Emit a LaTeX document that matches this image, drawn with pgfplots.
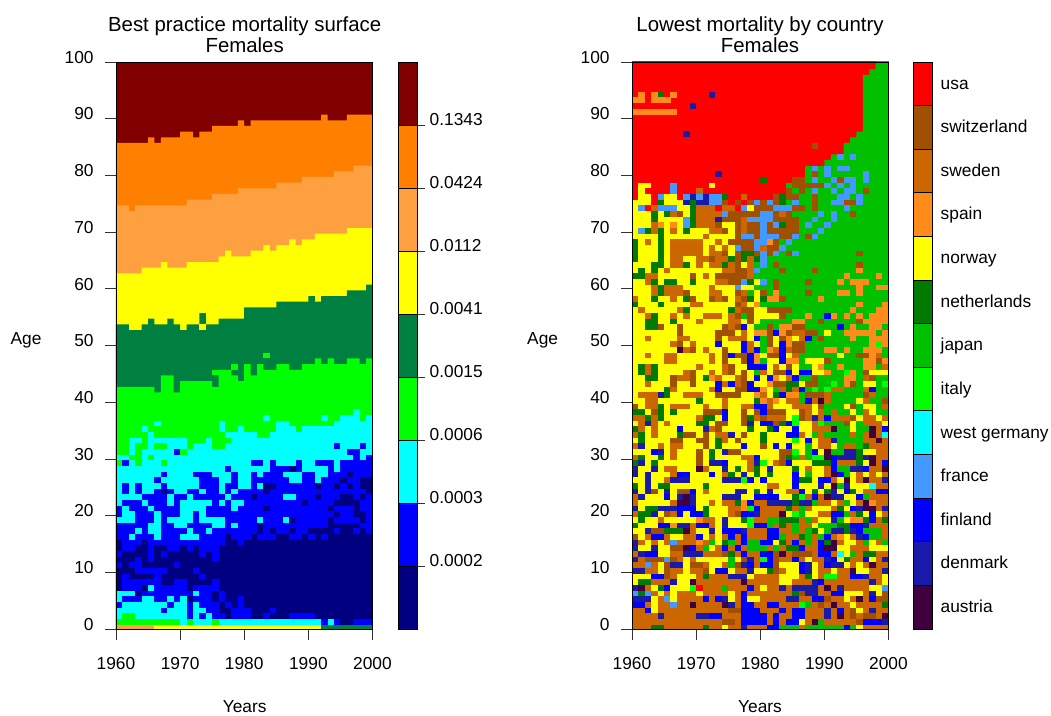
\documentclass[border=0pt]{standalone}
\usepackage{fontspec}
\setmainfont{Liberation Sans}
\usepackage{pgfplots}
\usepackage{pgfplotstable}
\pgfplotsset{compat=1.18}
\definecolor{l0}{HTML}{000080}\definecolor{l1}{HTML}{0000FF}\definecolor{l2}{HTML}{00FFFF}
\definecolor{l3}{HTML}{00FF00}\definecolor{l4}{HTML}{008040}\definecolor{l5}{HTML}{FFFF00}
\definecolor{l6}{HTML}{FFA040}\definecolor{l7}{HTML}{FF8000}\definecolor{l8}{HTML}{800000}
\definecolor{r0}{HTML}{400040}\definecolor{r1}{HTML}{1A1AAA}\definecolor{r2}{HTML}{0000FF}
\definecolor{r3}{HTML}{4499FF}\definecolor{r4}{HTML}{00FFFF}\definecolor{r5}{HTML}{00FF00}
\definecolor{r6}{HTML}{00C000}\definecolor{r7}{HTML}{007A00}\definecolor{r8}{HTML}{FFFF00}
\definecolor{r9}{HTML}{FF8C1A}\definecolor{r10}{HTML}{CC6600}\definecolor{r11}{HTML}{A05000}
\definecolor{r12}{HTML}{FF0000}
\pgfdeclareplotmark{cell}{\pgfpathrectangle{\pgfpoint{0pt}{-1.19pt}}{\pgfpoint{4.9pt}{4.35pt}}\pgfusepathqfill}
\pgfplotsset{
 lcells/.style={scatter,only marks,forget plot,clip marker paths=true,point meta=explicit symbolic,scatter/classes={
  0={mark=cell,fill=l0},1={mark=cell,fill=l1},2={mark=cell,fill=l2},3={mark=cell,fill=l3},
  4={mark=cell,fill=l4},5={mark=cell,fill=l5},6={mark=cell,fill=l6}}},
 rcells/.style={scatter,only marks,forget plot,clip marker paths=true,point meta=explicit symbolic,scatter/classes={
  0={mark=cell,fill=r0},1={mark=cell,fill=r1},2={mark=cell,fill=r2},3={mark=cell,fill=r3},
  4={mark=cell,fill=r4},5={mark=cell,fill=r5},6={mark=cell,fill=r6},7={mark=cell,fill=r7},
  8={mark=cell,fill=r8},9={mark=cell,fill=r9},10={mark=cell,fill=r10},11={mark=cell,fill=r11},
  12={mark=cell,fill=r12}}},
 main/.style={scale only axis,width=192.375pt,height=425.25pt,xmin=1960,xmax=2000,ymin=0,ymax=100,
  xtick={1960,1970,1980,1990,2000},ytick={0,10,...,100},tick align=outside,xtick pos=bottom,ytick pos=left,
  major tick length=8pt,tick style={black!80,line width=0.5pt},axis line style={line width=0.5pt},
  /pgf/number format/assume math mode=true,/pgf/number format/1000 sep={},
  tick label style={font=\fontsize{13}{15}\selectfont},xticklabel style={yshift=-10pt},yticklabel style={xshift=-5.25pt,yshift=3.5pt},
  axis on top},
 bar/.style={scale only axis,width=14.25pt,height=425.25pt,xmin=0,xmax=1,xtick=\empty,tick align=outside,
  ytick pos=right,axis line style={line width=0.5pt},tick style={black!80,line width=0.5pt},
  tick label style={font=\fontsize{13}{15}\selectfont},axis on top},
}
% left panel: upper limit of each band per year
\pgfplotstableread{
x t8 t7 t6 t5 t4
1960 86 75 63 54 43
1961 86 75 63 54 43
1962 86 74 63 53 43
1963 86 75 63 53 43
1964 86 75 64 54 43
1965 87 75 64 55 43
1966 86 75 64 54 42
1967 87 75 65 54 45
1968 87 75 64 55 45
1969 87 75 64 54 42
1970 88 75 64 53 44
1971 88 76 65 54 44
1972 87 76 65 54 44
1973 88 76 65 56 44
1974 88 76 65 54 44
1975 89 77 65 54 43
1976 89 77 66 55 46
1977 89 77 67 55 46
1978 89 77 66 55 45
1979 90 78 66 55 44
1980 89 78 66 57 47
1981 90 78 67 57 45
1982 90 78 67 57 47
1983 90 78 68 57 46
1984 90 78 67 57 46
1985 90 79 68 58 47
1986 90 79 68 58 47
1987 90 79 69 58 46
1988 90 79 68 58 46
1989 90 80 69 58 47
1990 90 80 69 59 47
1991 90 80 70 58 48
1992 91 80 70 59 47
1993 90 80 70 59 48
1994 90 81 70 59 47
1995 90 81 70 59 47
1996 91 81 71 60 48
1997 91 82 71 60 48
1998 91 82 71 60 47
1999 91 82 71 61 48
2000 91 82 71 61 48
}\bands
% left panel cells, age 38 (first line) down to age 0
\pgfplotstableread[header=false]{
3 3 3 3 3 3 3 3 3 3  3 3 3 3 3 3 3 3 3 3  3 3 3 3 3 3 3 3 3 3  3 3 3 3 3 3 3 2 3 3
3 3 3 3 3 3 3 3 3 3  3 3 3 3 3 3 3 3 3 3  3 3 3 2 3 3 3 3 3 3  3 3 2 3 3 2 2 2 3 2
3 3 3 3 3 3 2 3 3 3  3 3 3 3 3 3 2 3 3 3  3 3 3 3 3 2 2 3 3 3  3 3 3 3 2 2 2 2 2 2
3 3 3 3 2 3 3 3 3 3  3 3 3 3 3 3 2 3 3 2  3 3 3 3 3 2 2 2 3 2  2 2 2 2 2 2 2 2 2 2
3 3 3 3 3 2 3 3 3 3  3 3 3 3 3 3 3 2 2 2  2 2 3 3 2 2 2 2 2 2  2 2 2 2 2 2 2 2 2 2
3 3 2 2 3 2 2 2 2 2  2 3 3 3 2 3 3 3 2 2  2 2 2 2 2 2 2 2 2 2  2 2 2 2 2 2 2 2 2 2
3 3 2 3 3 2 3 3 2 2  2 3 2 2 2 3 3 2 2 2  2 2 2 2 2 2 2 2 2 2  2 2 2 2 1 2 2 2 1 2
3 3 2 3 2 2 2 2 2 1  3 2 2 2 2 2 2 2 2 2  2 2 2 2 2 2 2 2 2 2  2 2 2 2 2 2 1 1 2 2
2 2 3 3 2 3 2 2 2 2  2 2 2 2 2 2 2 2 2 2  2 2 2 2 2 2 2 2 2 2  2 2 2 2 2 2 2 1 2 1
3 1 2 3 2 2 2 3 2 2  2 2 2 2 2 2 2 2 2 2  2 1 1 2 1 2 2 2 1 2  2 1 1 1 2 1 1 1 1 1
2 2 2 2 2 2 2 2 2 2  2 2 2 2 2 2 2 1 2 2  2 2 2 2 1 1 1 0 1 2  2 2 2 1 2 1 1 1 1 1
2 2 2 2 2 2 2 1 2 2  2 2 1 1 1 2 2 2 1 2  2 1 2 1 1 1 2 2 2 1  1 2 2 1 1 1 0 1 1 1
2 2 2 2 2 2 1 2 2 2  2 2 2 1 1 1 2 2 1 2  2 1 1 1 1 1 1 2 2 1  1 2 1 1 1 0 1 1 0 0
2 1 2 1 2 2 2 1 2 2  2 2 2 1 1 1 2 1 1 2  2 1 2 0 0 1 1 1 1 1  1 0 1 1 0 1 0 1 0 0
2 1 2 1 2 2 1 0 1 2  2 1 1 2 1 1 2 1 2 1  1 1 1 0 1 1 1 1 1 1  1 1 1 1 1 1 1 1 1 0
2 2 2 2 1 1 1 1 2 1  1 2 1 1 1 1 1 2 1 1  1 0 1 1 1 1 2 2 1 1  1 0 1 1 1 0 0 1 0 1
2 1 1 1 2 1 1 1 2 1  2 2 2 2 2 1 2 1 2 2  1 1 1 1 1 1 1 1 1 0  1 1 1 1 0 0 0 0 1 1
1 2 1 1 1 2 1 1 1 1  2 2 2 2 1 1 1 1 2 1  1 1 1 0 1 1 1 1 1 1  1 1 1 0 1 1 1 0 1 1
1 2 2 1 1 1 2 1 1 1  2 2 1 2 1 1 1 1 1 1  1 1 1 1 1 1 1 1 1 1  1 1 1 1 0 1 1 0 0 1
2 2 2 1 1 1 2 1 2 2  2 2 1 2 2 2 2 1 1 1  1 1 2 1 1 1 2 0 1 1  1 1 1 0 1 1 1 1 0 1
1 1 1 1 1 2 2 1 1 2  2 1 1 1 1 2 2 1 2 1  1 1 0 1 1 1 1 1 1 1  1 1 1 0 0 0 0 0 1 1
1 1 1 2 1 2 2 1 1 1  1 2 1 1 2 1 1 1 1 1  1 1 0 1 0 1 1 0 1 1  0 0 0 0 1 0 0 1 0 1
1 1 2 1 1 1 2 1 1 1  2 2 2 1 1 1 1 0 1 1  1 0 1 1 1 0 0 1 1 0  1 0 1 0 0 0 0 0 0 0
0 1 1 1 0 1 1 1 1 1  1 1 1 1 1 1 1 0 0 1  0 0 0 0 0 0 0 0 0 0  0 0 0 0 0 0 0 0 0 0
0 1 1 0 0 1 0 0 1 1  0 1 0 1 1 1 0 0 0 0  0 0 0 0 0 0 0 0 0 0  0 0 0 0 0 0 0 0 0 0
1 0 0 0 0 1 0 1 0 0  0 0 0 1 0 1 0 0 0 0  0 0 0 0 0 0 0 0 0 0  0 0 0 0 0 0 0 0 0 0
0 0 0 1 0 1 0 0 0 0  0 0 0 0 0 1 0 0 0 0  0 0 0 0 0 0 0 0 0 0  0 0 0 0 0 0 0 0 0 0
1 0 1 1 0 0 0 0 0 1  0 0 0 0 0 0 0 0 0 0  0 0 0 0 0 0 0 0 0 0  0 0 0 0 0 0 0 0 0 0
0 0 0 1 1 1 1 1 0 0  0 0 1 0 0 0 0 0 0 0  0 0 0 0 0 0 0 0 0 0  0 0 0 0 0 0 0 0 0 0
0 1 0 0 0 0 1 0 0 0  0 0 0 1 0 0 0 0 0 0  0 0 0 0 0 0 0 0 0 0  0 0 0 0 0 0 0 0 0 0
0 1 1 1 1 1 1 0 0 1  1 0 0 0 0 1 0 0 0 0  0 0 0 0 0 0 0 0 0 0  0 0 0 0 0 0 0 0 0 0
0 1 1 1 0 2 1 1 1 1  1 0 1 1 1 1 0 0 0 0  0 0 0 0 0 0 0 0 0 0  0 0 0 0 0 0 0 0 0 0
2 2 2 0 1 1 1 1 1 1  1 1 2 1 1 0 1 0 0 0  0 0 0 0 0 0 0 0 0 0  0 0 0 0 0 0 0 0 0 0
2 1 1 1 2 2 1 1 2 1  2 0 1 1 1 0 1 0 0 1  0 0 0 0 0 0 0 0 0 0  0 0 0 0 0 0 0 0 0 0
1 2 2 2 2 2 2 2 1 2  2 1 2 1 1 1 0 1 0 1  0 0 0 0 0 0 0 0 0 0  0 0 0 0 0 0 0 0 0 0
2 2 2 2 2 2 2 1 2 2  2 1 2 2 1 1 0 0 1 1  1 0 0 0 1 0 0 0 0 0  0 0 0 0 0 0 0 0 0 0
2 3 3 2 2 2 2 2 2 2  2 1 2 1 2 1 1 0 1 1  1 0 0 1 0 0 0 1 1 1  1 0 0 0 0 0 0 0 0 0
3 3 3 3 3 3 3 3 3 3  2 3 2 2 2 3 2 2 2 2  2 2 2 2 2 2 2 2 2 2  2 2 1 2 1 0 0 1 1 1
6 6 6 6 6 6 5 5 5 5  5 5 5 5 5 5 5 5 5 5  5 5 5 5 5 5 5 5 5 5  5 5 4 4 4 4 4 4 4 4
}\lcellsT
\pgfplotstableread{
x y c
1973 53 5
1975 45 3
1978 46 3
1983 48 3
}\lsparse
% right panel cells, age 79 (first line) down to age 0
\pgfplotstableread[header=false]{
12 12 12 12 12 12 12 12 12 12  12 12 12 12 12 12 12 12 12 12  7 12 12 12 12 11 11 6 3 6  6 3 11 3 3 6 3 6 6 6
12 8 8 12 12 12 3 12 12 12  12 12 8 12 12 12 12 12 12 12  12 12 12 12 6 11 11 11 11 11  3 6 3 6 3 6 6 6 6 6
12 8 12 12 12 12 3 12 12 12  10 12 12 12 12 12 12 12 12 12  12 12 12 12 11 6 11 6 3 6  6 3 6 3 3 6 11 6 6 6
12 8 8 12 3 8 8 12 3 1  3 1 3 3 7 12 12 10 12 12  12 12 11 7 11 11 6 6 11 6  6 6 3 3 6 3 6 6 6 6
8 8 8 12 7 8 8 8 1 7  1 1 3 3 11 12 11 12 11 3  11 3 11 7 6 3 6 6 11 6  6 3 3 11 11 3 6 6 6 6
8 3 12 10 3 3 3 8 8 7  10 10 10 12 10 10 12 3 8 11  11 11 3 3 3 11 11 6 11 6  6 6 6 3 6 6 6 6 6 6
8 8 8 7 8 7 10 11 8 7  10 10 10 10 3 11 11 11 11 11  3 3 11 10 11 6 6 6 6 3  6 3 6 6 11 6 6 6 6 6
8 8 8 7 8 8 8 8 3 7  10 10 10 1 11 11 11 10 3 3  3 3 11 11 11 11 6 6 3 6  6 3 6 6 6 6 6 6 6 6
8 8 8 10 9 8 9 8 3 7  10 10 10 11 8 8 11 10 11 11  3 11 3 7 11 11 6 3 6 6  3 6 6 6 6 6 6 6 6 6
8 3 7 10 7 8 10 8 7 8  8 8 10 10 11 8 11 10 11 11  3 11 11 11 11 11 6 6 6 3  6 6 6 6 6 6 6 6 6 6
8 8 8 8 7 8 8 8 8 8  8 10 8 8 8 8 11 3 3 11  3 3 3 11 11 3 6 11 3 6  6 6 6 6 6 6 6 6 6 6
7 8 10 8 7 8 10 10 10 10  10 8 8 10 8 11 11 11 11 3  3 9 11 6 3 6 6 6 6 6  6 6 6 6 6 6 6 6 6 6
7 8 8 8 7 8 10 10 10 10  10 8 10 8 10 8 3 11 11 3  10 11 11 3 6 6 6 6 6 6  6 6 6 6 6 6 6 6 6 6
7 8 8 8 7 8 10 10 10 10  10 8 10 10 11 8 11 7 7 11  3 11 3 6 11 3 6 6 6 6  6 6 6 6 6 11 6 6 6 6
7 8 8 8 7 8 10 10 8 8  10 10 11 10 10 7 11 7 10 7  3 6 6 6 6 6 6 6 6 6  6 6 6 6 6 6 6 6 6 6
8 8 8 7 7 8 10 10 7 8  10 8 10 10 7 10 11 8 10 6  3 6 11 6 6 6 6 6 6 6  6 6 6 6 6 11 6 6 6 6
8 7 8 7 8 10 8 8 8 8  8 8 8 8 10 10 11 11 10 3  6 6 6 11 6 6 6 6 11 6  6 6 6 6 6 9 6 6 6 6
7 7 10 10 8 8 8 8 8 11  8 10 8 11 11 11 11 11 10 6  6 6 6 6 6 6 6 6 6 6  6 6 6 9 6 6 6 6 9 6
8 8 10 7 8 7 7 8 8 7  8 8 8 10 10 11 11 3 7 8  3 6 11 6 6 6 6 11 6 6  6 6 9 6 9 9 9 6 6 6
8 8 8 10 7 10 10 10 8 8  8 8 10 8 8 8 3 8 8 6  6 6 11 6 6 6 6 6 6 6  6 6 6 6 6 9 6 6 9 9
8 8 8 10 7 10 10 10 11 8  8 8 10 10 8 8 11 10 6 8  11 6 9 6 6 6 6 11 6 6  6 6 9 9 6 9 6 6 6 6
10 8 8 7 8 8 10 8 7 11  8 8 11 10 11 8 10 11 7 8  7 9 9 11 6 6 6 6 6 9  6 6 6 6 6 6 6 6 6 6
7 8 8 8 7 8 8 8 8 10  10 8 8 8 8 8 11 10 8 9  6 6 6 6 6 6 6 6 6 6  6 6 6 6 6 9 6 6 6 9
8 10 8 8 8 8 8 10 7 8  8 8 8 8 8 7 10 11 11 8  8 11 11 11 11 6 6 6 6 6  6 6 6 6 9 6 6 6 9 9
8 8 10 7 8 8 10 8 10 8  8 10 10 10 8 10 11 6 11 8  8 8 8 11 6 6 6 9 6 6  2 9 6 9 6 9 6 9 9 9
8 8 7 7 8 8 7 8 8 8  10 8 8 8 8 10 10 8 11 8  6 6 6 6 6 9 9 6 6 11  6 6 6 6 6 11 9 9 9 9
8 8 7 7 11 8 8 11 8 8  8 8 8 8 11 10 11 2 8 6  6 11 6 9 9 11 11 6 6 6  6 6 2 6 9 6 6 9 9 6
8 8 8 8 8 8 8 11 8 8  8 8 8 11 11 11 8 10 8 9  9 11 2 9 11 10 10 11 11 6  8 6 6 9 9 9 9 9 6 9
8 8 10 8 8 8 8 10 10 8  8 8 8 11 8 10 10 10 8 2  6 11 8 11 9 8 10 2 6 11  6 6 6 6 9 6 6 9 9 9
8 8 8 8 8 8 10 11 8 10  8 8 8 2 8 8 8 2 10 8  6 11 8 2 9 11 11 6 6 6  6 6 6 6 6 6 6 9 5 9
8 8 8 8 8 8 8 0 10 11  8 10 8 8 11 8 8 2 10 2  6 9 10 2 10 11 11 6 6 6  9 9 6 9 6 6 9 9 9 6
8 8 10 8 8 10 10 8 8 8  8 8 10 8 11 2 11 11 2 9  8 11 11 2 8 10 6 6 6 6  6 6 8 6 6 11 11 9 10 6
8 8 8 8 8 10 10 8 8 8  8 8 10 8 11 8 8 11 2 9  6 8 8 2 9 9 6 8 8 8  11 6 6 6 6 6 9 9 11 9
8 7 10 7 8 8 8 8 8 8  10 8 8 8 10 11 8 8 2 2  2 8 10 8 11 8 6 6 8 9  6 6 9 6 6 6 9 9 6 10
8 7 10 7 8 8 8 8 10 11  8 8 10 8 10 11 8 11 8 6  10 8 11 11 2 8 2 2 8 8  9 6 6 5 9 6 11 8 8 8
8 8 7 7 8 8 11 10 10 11  8 7 9 10 8 8 10 11 8 2  8 2 9 8 10 2 6 6 11 6  6 6 6 9 9 6 10 11 6 6
8 8 10 8 8 8 11 8 8 11  8 8 8 2 10 2 10 11 2 8  8 9 11 11 7 7 8 11 11 6  6 5 6 9 11 6 8 8 6 5
8 8 8 8 8 7 10 8 8 8  8 8 10 2 8 8 11 11 2 2  9 8 6 10 7 10 2 6 5 6  5 10 10 6 6 6 10 2 6 6
8 10 10 10 1 7 8 8 10 10  10 8 8 11 11 11 11 8 8 9  10 8 7 2 9 9 6 11 11 11  10 6 6 6 6 6 11 10 6 6
8 8 10 10 8 8 8 8 8 8  7 8 8 8 10 8 8 8 8 7  9 10 9 8 10 10 6 2 10 0  10 6 6 6 6 8 10 6 6 11
11 8 10 10 7 8 10 10 10 8  8 10 8 8 10 8 8 10 10 2  2 10 8 8 8 10 10 10 8 11  6 6 6 8 11 6 8 8 6 10
7 7 8 11 7 8 7 8 8 8  8 11 11 11 2 8 8 11 8 11  2 11 11 11 8 8 11 10 8 10  6 10 6 6 8 6 10 8 6 6
10 10 7 10 7 8 8 8 8 8  10 7 7 8 2 8 8 11 7 10  11 10 10 10 8 5 11 10 1 10  2 10 10 10 11 8 10 10 8 10
8 10 1 10 8 10 8 8 8 8  7 7 8 11 11 8 8 11 1 8  2 2 11 7 2 5 8 8 10 5  6 6 6 11 8 6 10 10 10 8
7 10 8 10 8 8 8 2 8 8  8 1 10 11 8 8 8 8 7 8  8 7 2 8 8 2 8 8 10 10  10 0 6 6 8 6 6 0 10 2
10 7 8 10 8 8 8 7 11 11  8 11 8 10 10 1 8 11 8 8  7 8 8 8 2 2 10 8 6 10  6 6 6 6 10 6 10 0 10 4
8 7 8 8 8 8 11 11 8 8  11 11 8 7 10 8 11 8 8 8  7 8 8 8 8 5 8 2 8 10  10 1 6 6 6 6 10 10 0 10
10 1 8 8 10 8 10 10 8 8  8 11 8 7 8 8 8 2 8 8  11 8 2 8 2 8 8 6 8 10  10 8 6 10 10 6 7 10 10 10
8 8 8 2 1 8 10 8 8 8  11 8 7 8 1 11 11 8 8 8  8 8 8 11 11 5 8 6 2 8  0 6 6 1 1 7 8 8 10 10
10 7 8 8 7 8 10 8 8 8  11 8 7 8 8 8 8 10 10 2  8 8 8 11 7 6 10 6 5 5  0 2 1 1 1 7 1 0 10 10
7 1 8 7 8 8 8 8 8 8  11 8 1 1 2 8 8 8 10 1  5 8 10 11 2 8 8 8 7 7  7 2 10 10 10 7 8 0 10 2
1 8 8 1 8 10 10 8 8 8  0 10 8 8 1 8 7 8 10 7  8 1 8 8 8 7 8 10 8 8  10 2 6 6 1 1 2 10 10 0
1 8 1 8 8 8 10 2 2 8  8 8 2 8 10 7 8 1 8 7  8 7 8 8 8 2 8 6 8 8  10 0 2 6 8 10 8 10 8 10
8 8 1 8 8 10 1 1 1 8  8 8 8 8 1 1 1 5 2 8  2 8 8 8 8 2 7 7 8 2  2 10 8 0 8 10 0 10 10 1
7 8 1 8 7 7 8 8 8 8  8 7 8 8 8 8 8 8 8 8  8 10 10 8 8 2 8 8 8 1  8 0 6 1 8 8 8 4 10 10
1 8 1 11 8 1 8 11 11 2  8 10 8 8 8 8 1 1 8 7  8 1 8 8 10 10 2 8 7 8  7 1 8 2 7 8 10 10 2 2
10 1 8 8 8 2 8 1 0 1  8 8 8 8 1 1 1 8 8 2  2 2 2 8 8 7 5 10 2 10  0 1 1 8 8 2 6 10 10 10
10 8 8 8 8 8 10 0 0 1  8 8 10 8 10 10 7 9 2 10  10 1 1 1 1 7 1 1 6 10  10 8 10 6 8 10 0 9 10 10
1 8 7 7 1 1 1 2 2 2  8 7 8 8 8 10 10 9 5 2  10 10 10 10 7 10 6 10 8 8  8 10 7 8 2 1 0 0 10 1
10 7 7 1 8 11 10 2 8 2  2 7 8 8 8 10 11 2 2 1  10 10 10 0 8 5 6 8 8 10  10 2 2 6 10 7 8 2 8 10
8 7 8 8 10 8 8 8 8 8  9 10 10 8 1 8 8 7 5 10  10 6 6 7 7 7 10 6 10 8  8 1 6 8 9 9 7 2 10 7
7 8 8 8 2 2 9 1 1 10  2 2 10 8 1 8 8 8 5 2  2 6 10 7 10 6 10 10 8 6  6 6 7 7 2 2 1 10 10 10
8 8 1 11 11 7 7 7 0 10  8 8 1 8 2 2 2 1 10 10  10 2 2 10 10 6 10 6 7 8  6 1 1 7 1 2 6 6 6 10
11 8 10 2 2 10 8 8 10 10  2 8 10 8 10 2 10 2 10 10  10 2 2 6 10 10 7 6 10 6  2 10 9 8 10 1 2 6 6 10
1 10 8 10 8 10 3 10 10 10  9 10 6 8 7 6 10 2 6 6  2 2 8 7 10 2 10 6 10 2  7 0 10 8 8 10 6 8 10 6
1 8 8 1 8 8 11 11 0 2  10 6 8 10 2 10 2 10 6 6  6 10 6 10 7 7 2 10 10 2  0 0 8 8 10 10 10 8 8 8
10 1 2 2 8 8 10 10 1 1  1 10 10 10 11 7 10 2 10 10  2 2 11 0 10 11 11 11 10 2  2 10 4 8 6 10 7 7 10 10
1 10 11 11 11 3 11 10 8 10  8 8 8 8 8 6 8 11 1 10  5 2 11 10 10 2 10 8 10 10  1 2 8 7 10 10 2 8 10 1
10 10 3 10 8 11 1 1 8 11  11 10 8 8 10 6 11 1 2 10  2 2 11 8 8 8 2 1 8 10  2 1 1 8 10 8 10 0 10 10
1 1 10 10 8 11 10 10 8 10  10 11 8 2 2 8 10 10 1 8  8 7 11 10 8 8 2 1 8 10  10 8 10 10 0 8 8 10 10 1
8 8 8 2 2 11 10 8 8 8  10 7 10 10 10 1 1 1 8 10  10 10 10 8 8 8 10 7 8 10  5 5 10 10 2 2 1 10 10 8
8 7 7 10 10 10 1 8 8 0  10 10 10 10 10 10 10 0 10 10  10 10 10 8 8 10 10 10 1 2  10 10 10 10 10 10 10 1 10 8
1 0 10 8 7 2 8 8 8 5  12 10 10 10 6 10 10 10 2 10  8 10 10 1 10 1 1 1 1 10  0 10 1 10 10 10 10 8 8 3
3 7 3 10 8 10 8 10 10 10  8 10 10 10 10 8 10 2 10 10  10 10 10 10 10 7 11 1 1 10  10 2 2 8 8 8 10 1 8 11
1 1 1 8 10 3 8 10 10 10  10 2 10 2 1 8 10 2 8 8  10 10 10 10 1 1 10 10 2 2  11 10 10 8 10 0 10 2 11 11
2 2 10 8 10 10 3 10 10 0  10 10 10 10 0 1 10 2 2 10  10 2 2 10 10 10 5 6 10 11  10 0 10 10 8 10 10 10 10 7
10 10 2 8 10 10 10 10 10 10  10 10 10 10 10 11 11 2 2 2  10 10 10 2 10 2 2 10 10 10  1 10 2 10 11 8 10 1 10 10
10 10 10 10 1 10 10 10 10 10  1 1 2 2 10 10 10 2 2 2  2 10 2 10 10 2 2 10 10 10  1 10 0 10 11 10 11 11 10 0
10 10 10 10 10 10 10 10 10 10  10 10 10 10 11 11 10 2 2 2  2 10 2 10 2 2 8 10 0 6  10 10 10 10 10 11 2 2 2 1
10 10 10 7 7 10 10 10 10 10  10 7 10 10 8 10 10 1 10 10  10 2 2 6 6 6 10 6 6 6  6 6 6 2 6 8 10 10 10 10
}\rcellsT
\pgfplotstableread{
x y c
1961 94 9
1963 94 9
1964 94 7
1966 94 9
1972 94 1
1960 93 9
1961 93 9
1963 93 9
1964 93 9
1965 93 9
1969 92 1
1960 91 9
1961 91 9
1962 91 9
1963 91 9
1964 91 9
1965 91 9
1966 91 9
1968 87 1
1988 85 11
1973 80 1
1987 80 6
1988 80 11
1989 80 6
}\rsparse
\begin{document}
\begin{tikzpicture}
\useasboundingbox (0pt,0pt) rectangle (788.25pt,536.25pt);
% ---- left main
\begin{axis}[main,at={(87pt,64.5pt)},anchor=south west,
 yticklabels={0,10,20,30,40,50,60,70,80,90,100\hspace{-8pt}}]
\addplot[fill=l8,draw=none,forget plot] coordinates {(1960,0)(2000,0)(2000,100)(1960,100)} --cycle;
\addplot[const plot,fill=l7,draw=none,forget plot] table[x=x,y expr={\thisrow{t8}-0.28}]{\bands} \closedcycle;
\addplot[const plot,fill=l6,draw=none,forget plot] table[x=x,y expr={\thisrow{t7}-0.28}]{\bands} \closedcycle;
\addplot[const plot,fill=l5,draw=none,forget plot] table[x=x,y expr={\thisrow{t6}-0.28}]{\bands} \closedcycle;
\addplot[const plot,fill=l4,draw=none,forget plot] table[x=x,y expr={\thisrow{t5}-0.28}]{\bands} \closedcycle;
\addplot[const plot,fill=l3,draw=none,forget plot] table[x=x,y expr={\thisrow{t4}-0.28}]{\bands} \closedcycle;
\pgfplotsinvokeforeach{0,...,39}{
 \addplot[lcells] table[x expr={1960+#1},y expr={38-\coordindex},meta index=#1]{\lcellsT};
}
\addplot[lcells] table[x=x,y=y,meta=c]{\lsparse};
\end{axis}
% ---- left colour bar
\begin{axis}[bar,at={(298.5pt,64.5pt)},anchor=south west,ymin=0,ymax=9,ytick={1,...,8},
 yticklabel style={yshift=3.75pt},
 yticklabels={0.0002,0.0003,0.0006,0.0015,0.0041,0.0112,0.0424,0.1343},major tick length=6pt]
\addplot[fill=l0,draw=black,line width=.7pt] coordinates {(0,0)(1,0)(1,1)(0,1)} --cycle;
\addplot[fill=l1,draw=black,line width=.7pt] coordinates {(0,1)(1,1)(1,2)(0,2)} --cycle;
\addplot[fill=l2,draw=black,line width=.7pt] coordinates {(0,2)(1,2)(1,3)(0,3)} --cycle;
\addplot[fill=l3,draw=black,line width=.7pt] coordinates {(0,3)(1,3)(1,4)(0,4)} --cycle;
\addplot[fill=l4,draw=black,line width=.7pt] coordinates {(0,4)(1,4)(1,5)(0,5)} --cycle;
\addplot[fill=l5,draw=black,line width=.7pt] coordinates {(0,5)(1,5)(1,6)(0,6)} --cycle;
\addplot[fill=l6,draw=black,line width=.7pt] coordinates {(0,6)(1,6)(1,7)(0,7)} --cycle;
\addplot[fill=l7,draw=black,line width=.7pt] coordinates {(0,7)(1,7)(1,8)(0,8)} --cycle;
\addplot[fill=l8,draw=black,line width=.7pt] coordinates {(0,8)(1,8)(1,9)(0,9)} --cycle;
\end{axis}
% ---- right main
\begin{axis}[main,at={(474pt,64.5pt)},anchor=south west]
\addplot[fill=r12,draw=none,forget plot] coordinates {(1960,79)(2000,79)(2000,101)(1960,101)} --cycle;
\addplot[yshift=-1.19pt,fill=r6,draw=none,forget plot] coordinates {(1990,80)(2000,80)(2000,101)(1998,101)(1998,99)(1997,99)(1997,98)(1996,98)(1996,88)(1995,88)(1995,87)(1994,87)(1994,86)(1993,86)(1993,84)(1991,84)(1991,83)(1990,83)} --cycle;
\addplot[yshift=-1.19pt,fill=r6,draw=none,forget plot] coordinates {(1987,80)(1990,80)(1990,82)(1987,82)} --cycle;
\addplot[yshift=-1.19pt,fill=r3,draw=none,forget plot] coordinates {(1992,83)(1993,83)(1993,84)(1992,84)} --cycle;
\addplot[yshift=-1.19pt,fill=r3,draw=none,forget plot] coordinates {(1994,83)(1995,83)(1995,84)(1994,84)} --cycle;
\addplot[yshift=-1.19pt,fill=r3,draw=none,forget plot] coordinates {(1988,81)(1989,81)(1989,82)(1988,82)} --cycle;
\addplot[yshift=-1.19pt,fill=r3,draw=none,forget plot] coordinates {(1990,80)(1991,80)(1991,82)(1990,82)} --cycle;
\addplot[yshift=-1.19pt,fill=r3,draw=none,forget plot] coordinates {(1992,81)(1994,81)(1994,82)(1992,82)} --cycle;
\addplot[yshift=-1.19pt,fill=r3,draw=none,forget plot] coordinates {(1996,80)(1997,80)(1997,81)(1996,81)} --cycle;
\pgfplotsinvokeforeach{0,...,39}{
 \addplot[rcells] table[x expr={1960+#1},y expr={79-\coordindex},meta index=#1]{\rcellsT};
}
\addplot[rcells] table[x=x,y=y,meta=c]{\rsparse};
\end{axis}
% ---- right colour bar
\begin{axis}[bar,at={(684.75pt,64.5pt)},anchor=south west,ymin=0,ymax=13,ytick={0.5,1.5,...,12.5},major tick length=0pt,
 yticklabels={austria,denmark,finland,france,west germany,italy,japan,netherlands,norway,spain,sweden,switzerland,usa},
 yticklabel style={anchor=base west,xshift=3pt,yshift=-4pt}]
\pgfplotsinvokeforeach{0,...,12}{
 \addplot[fill=r#1,draw=black,line width=.7pt] coordinates {(0,#1)(1,#1)(1,#1+1)(0,#1+1)} --cycle;
}
\end{axis}
% ---- texts
\node[font=\fontsize{15.3}{15.8}\selectfont,align=center] at (183.5pt,510pt) {Best practice mortality surface\\Females};
\node[font=\fontsize{15.3}{15.8}\selectfont,align=center] at (570pt,510pt) {Lowest mortality by country\\Females};
\node[font=\fontsize{13}{15}\selectfont] at (19.5pt,281pt) {Age};
\node[font=\fontsize{13}{15}\selectfont] at (407pt,281pt) {Age};
\node[font=\fontsize{13}{15}\selectfont] at (183.5pt,6pt) {Years};
\node[font=\fontsize{13}{15}\selectfont] at (570pt,6pt) {Years};
\end{tikzpicture}
\end{document}
